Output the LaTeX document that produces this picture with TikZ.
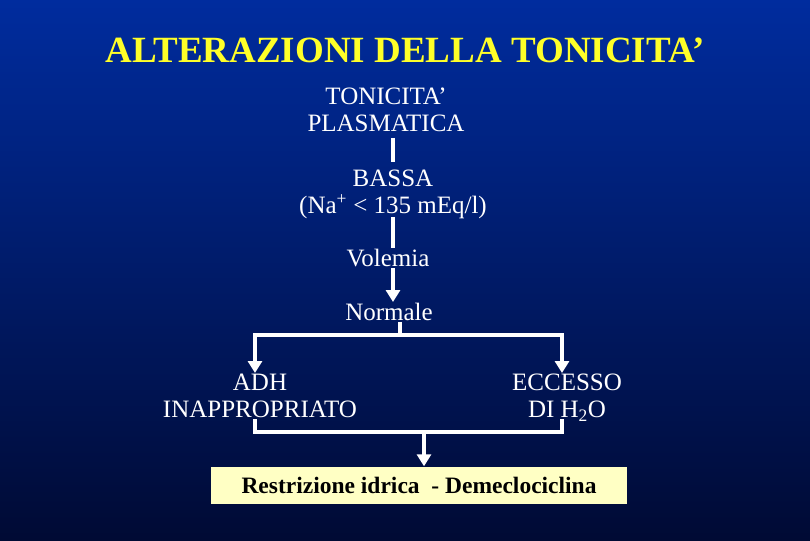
\documentclass[tikz,border=0pt]{standalone}
\usepackage{fontspec}
\setmainfont{Liberation Serif}
\usepackage{tikz}
\usetikzlibrary{positioning,calc,arrows.meta}

\definecolor{slidetop}{RGB}{0,44,158}
\definecolor{slidebot}{RGB}{0,10,52}
\definecolor{titleyel}{RGB}{255,255,40}
\definecolor{boxyel}{RGB}{255,255,196}

\begin{document}
\begin{tikzpicture}[x=1pt, y=-1pt, font=\fontsize{25}{27}\selectfont,
        lbl/.style={text=white, align=center, inner sep=1pt},
        link/.style={white, line width=4pt},
        arr/.style={link, -{Triangle[width=14pt,length=12pt]}}]
        % background
        \shade[top color=slidetop, bottom color=slidebot] (0,0) rectangle (810,540);
        \useasboundingbox (0,0) rectangle (810,540);

        % title
        \node [text=titleyel, font=\fontsize{37}{40}\selectfont\bfseries] (title) at (405,50) {ALTERAZIONI DELLA TONICITA'};

        % main chain
        \node [lbl] (tonic) at (386,110) {TONICITA'\\PLASMATICA};
        \node [lbl] (bassa) at (393,194) {BASSA\\(Na\textsuperscript{+} < 135 mEq/l)};
        \node [lbl] (volemia) at (388,258) {Volemia};
        \node [lbl] (normale) at (389,312) {Normale};
        \draw [link] (393,138) -- (393,162);
        \draw [link] (393,217) -- (volemia.north -| 393,0);
        \draw [arr] (volemia.south -| 393,0) -- (normale.north -| 393,0);

        % branches
        \node [lbl, anchor=north] (adh) at (260,373) {ADH\\INAPPROPRIATO};
        \node [lbl, anchor=north] (eccesso) at (567,373) {ECCESSO\\DI H\textsubscript{2}O};
        \coordinate (split) at (400,335);
        \draw [link] (normale.south -| split) -- (split);
        \draw [arr] (split) -| (adh.north -| 255,0);
        \draw [arr] (split) -| (eccesso.north -| 562,0);

        % treatment
        \node [fill=boxyel, minimum width=416pt, minimum height=37pt, inner sep=0pt,
               font=\fontsize{23.5}{25}\selectfont\bfseries] (cura) at (419,485) {Restrizione idrica \ - Demeclociclina};
        \coordinate (join) at (424,432);
        \draw [link] (255,419) |- (join) -| (562,419);
        \draw [arr] (join) -- (cura.north -| join);
\end{tikzpicture}
\end{document}
